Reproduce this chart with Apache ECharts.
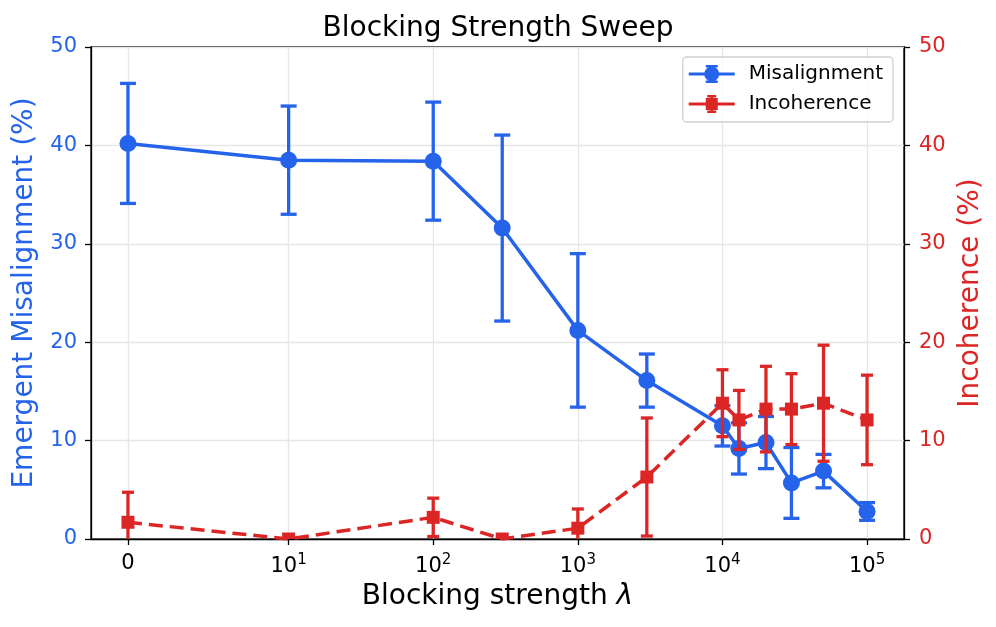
<!DOCTYPE html>
<html>
<head>
<meta charset="utf-8">
<script src="https://cdn.jsdelivr.net/npm/echarts@6/dist/echarts.min.js"></script>
<style>html,body{margin:0;padding:0;background:#fff}#c{width:996px;height:627px}</style>
</head>
<body>
<div id="c"></div>
<script>
const lambdas = [0, 10, 100, 300, 1000, 3000, 10000, 13000, 20000, 30000, 50000, 100000];
const misMean = [40.2, 38.5, 38.4, 31.6, 21.2, 16.1, 11.5, 9.2, 9.8, 5.7, 6.9, 2.8];
const misErr  = [6.1, 5.5, 6.0, 9.45, 7.8, 2.7, 2.05, 2.6, 2.65, 3.6, 1.7, 0.9];
const incMean = [1.7, 0, 2.2, 0, 1.1, 6.3, 13.8, 12.1, 13.2, 13.2, 13.8, 12.1];
const incErr  = [3.05, 0, 1.95, 0, 1.95, 6.0, 3.4, 3.0, 4.35, 3.6, 5.9, 4.55];
const xTicks = [0, 10, 100, 1000, 10000, 100000];
const yTicks = [0, 10, 20, 30, 40, 50];

const BLUE = '#2563eb', RED = '#dc2626', FONT = 'DejaVu Sans';
const LT = 10, LS = 1 / (1 - 1 / 10);
function symlog(x) { return x <= LT ? x / LT * LS : LS + Math.log10(x / LT); }
const tMax = symlog(xTicks[xTicks.length - 1]);
const xMin = -0.05 * tMax, xMax = tMax * 1.05;

function tickLabel(v) {
  for (const t of xTicks) {
    if (Math.abs(symlog(t) - v) < 1e-6) {
      if (t === 0) return '{b|0}';
      return '{b|10}{s|' + Math.round(Math.log10(t)) + '}';
    }
  }
  return '';
}

function errData(mean, err) {
  return lambdas.map((l, i) => [symlog(l), mean[i] - err[i], mean[i] + err[i], mean[i]]);
}

function errRender(color, capW, lw, square) {
  return function (params, api) {
    const x = api.value(0), lo = api.value(1), hi = api.value(2), m = api.value(3);
    const pLo = api.coord([x, lo]), pHi = api.coord([x, hi]), pM = api.coord([x, m]);
    const st = { stroke: color, lineWidth: lw, fill: null };
    const ch = [];
    if (hi > lo) {
      ch.push({ type: 'line', shape: { x1: pLo[0], y1: pLo[1], x2: pHi[0], y2: pHi[1] }, style: st });
      ch.push({ type: 'line', shape: { x1: pLo[0] - capW / 2, y1: pLo[1], x2: pLo[0] + capW / 2, y2: pLo[1] }, style: st });
      ch.push({ type: 'line', shape: { x1: pHi[0] - capW / 2, y1: pHi[1], x2: pHi[0] + capW / 2, y2: pHi[1] }, style: st });
    }
    if (square) {
      const s = square;
      ch.push({ type: 'rect', shape: { x: pM[0] - s / 2, y: pM[1] - s / 2, width: s, height: s }, style: { fill: color } });
    }
    return { type: 'group', children: ch };
  };
}

const blueIcon = 'path://M0 7.5H46V10.5H0Z M15.5 9A7.5 7.5 0 1 1 30.5 9A7.5 7.5 0 1 1 15.5 9Z M21.8 0H24.2V18H21.8Z M17 0H29V2.5H17Z M17 15.5H29V18H17Z';
const redIcon = 'path://M0 7.5H46V10.5H0Z M17 3H29V15H17Z M21.8 0H24.2V18H21.8Z M18.5 0H27.5V2.5H18.5Z M18.5 15.5H27.5V18H18.5Z';

const chart = echarts.init(document.getElementById('c'), null, { renderer: 'canvas' });
chart.setOption({
  animation: false,
  backgroundColor: '#fff',
  textStyle: { fontFamily: FONT },
  title: {
    text: 'Blocking Strength Sweep', left: 'center', top: 10,
    textStyle: { fontFamily: FONT, fontSize: 28, fontWeight: 'normal', color: '#000' }
  },
  grid: { left: 91, right: 92, top: 47, bottom: 88, show: true, borderColor: '#000', borderWidth: 1.3, backgroundColor: 'transparent' },
  legend: {
    orient: 'vertical', right: 103, top: 57,
    itemWidth: 46, itemHeight: 18, itemGap: 10,
    padding: [7, 10, 8, 6],
    borderColor: '#d0d0d0', borderWidth: 1.3, borderRadius: 4, backgroundColor: 'rgba(255,255,255,0.8)',
    textStyle: { fontFamily: FONT, fontSize: 20, color: '#000', padding: [0, 0, 0, 9] },
    itemStyle: { borderWidth: 0 },
    data: [{ name: 'Misalignment', icon: blueIcon }, { name: 'Incoherence', icon: redIcon }]
  },
  xAxis: {
    type: 'value', min: xMin, max: xMax,
    name: '{n|Blocking strength }{i|λ}', nameLocation: 'middle', nameGap: 44,
    nameTextStyle: { rich: { n: { fontFamily: FONT, fontSize: 28, color: '#000' }, i: { fontFamily: FONT, fontSize: 28, fontStyle: 'italic', color: '#000' } } },
    axisLine: { show: true, onZero: false, lineStyle: { color: '#000', width: 1.3 } },
    axisTick: { show: true, length: 6, lineStyle: { color: '#000', width: 1.3 }, customValues: xTicks.map(symlog) },
    axisLabel: {
      customValues: xTicks.map(symlog), margin: 14, formatter: tickLabel,
      rich: { b: { fontFamily: FONT, fontSize: 21, color: '#000' }, s: { fontFamily: FONT, fontSize: 15, color: '#000', padding: [0, 0, 13, 0] } }
    },
    splitLine: { show: true, lineStyle: { color: '#e6e6e6', width: 1.3 } }
  },
  yAxis: [{
    type: 'value', min: 0, max: 50, interval: 10, position: 'left',
    name: 'Emergent Misalignment (%)', nameLocation: 'middle', nameGap: 52,
    nameTextStyle: { fontFamily: FONT, fontSize: 28, color: BLUE },
    axisLine: { show: true, onZero: false, lineStyle: { color: '#000', width: 1.3 } },
    axisTick: { show: true, length: 6, lineStyle: { color: '#000', width: 1.3 } },
    axisLabel: { margin: 14, fontFamily: FONT, fontSize: 21, color: BLUE },
    splitLine: { show: true, lineStyle: { color: '#e6e6e6', width: 1.3 } }
  }, {
    type: 'value', min: 0, max: 50, interval: 10, position: 'right',
    name: 'Incoherence (%)', nameLocation: 'middle', nameGap: 47,
    nameTextStyle: { fontFamily: FONT, fontSize: 28, color: RED },
    axisLine: { show: true, onZero: false, lineStyle: { color: '#000', width: 1.3 } },
    axisTick: { show: true, length: 6, lineStyle: { color: '#000', width: 1.3 } },
    axisLabel: { margin: 15, fontFamily: FONT, fontSize: 21, color: RED },
    splitLine: { show: false }
  }],
  series: [
    {
      name: 'Misalignment', type: 'custom', yAxisIndex: 0, clip: true, z: 2,
      itemStyle: { color: BLUE },
      renderItem: errRender(BLUE, 16, 3.3, 0),
      data: errData(misMean, misErr)
    },
    {
      name: 'Misalignment', type: 'line', yAxisIndex: 0, z: 3,
      data: lambdas.map((l, i) => [symlog(l), misMean[i]]),
      symbol: 'circle', symbolSize: 17, showSymbol: true,
      itemStyle: { color: BLUE, borderWidth: 0 },
      lineStyle: { color: BLUE, width: 3.5 }
    },
    {
      name: 'Incoherence', type: 'line', yAxisIndex: 1, z: 4,
      data: lambdas.map((l, i) => [symlog(l), incMean[i]]),
      symbol: 'none',
      itemStyle: { color: RED },
      lineStyle: { color: RED, width: 3.5, type: [14, 7] }
    },
    {
      name: 'Incoherence', type: 'custom', yAxisIndex: 1, clip: true, z: 5,
      itemStyle: { color: RED },
      renderItem: errRender(RED, 12, 3.3, 13),
      data: errData(incMean, incErr)
    }
  ]
});
</script>
</body>
</html>
